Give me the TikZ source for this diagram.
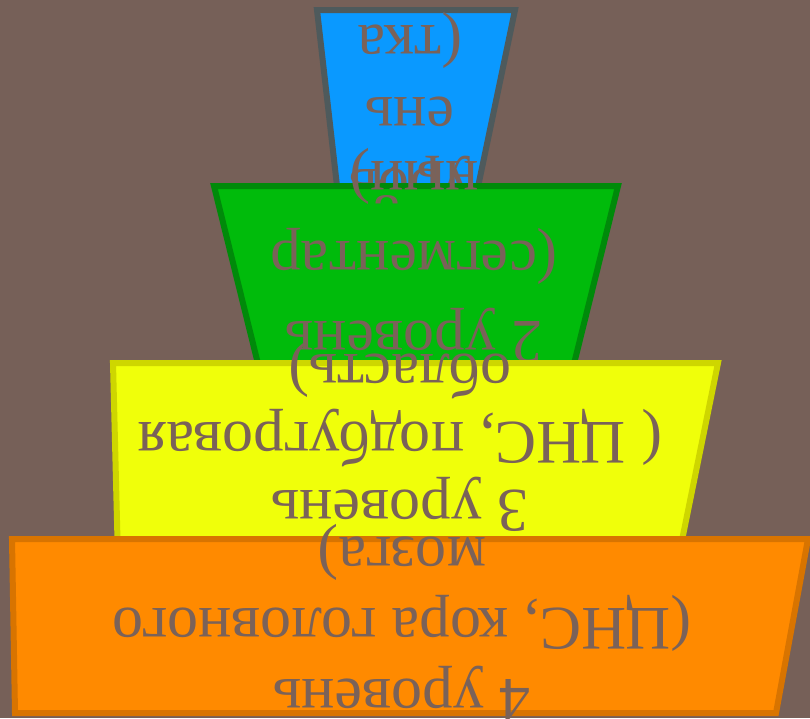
\documentclass[tikz,border=0pt]{standalone}
\usepackage{fontspec}
\setmainfont{Liberation Serif}
\definecolor{bgc}{HTML}{766058}
\definecolor{txc}{HTML}{7A6259}
\definecolor{bluef}{HTML}{0A99FF}
\definecolor{bluel}{HTML}{4E5A5C}
\definecolor{greenf}{HTML}{00BB0B}
\definecolor{greenl}{HTML}{008A0A}
\definecolor{yellowf}{HTML}{F0FF0A}
\definecolor{yellowl}{HTML}{CED600}
\definecolor{orangef}{HTML}{FF8A00}
\definecolor{orangel}{HTML}{D87400}
\tikzset{
  level/.style={line width=6pt, line join=miter},
  lbl/.style={rotate=180, align=center, text=txc, inner sep=0pt},
}
\begin{document}
\begin{tikzpicture}[x=1pt,y=-1pt]
\fill[bgc] (0,0) rectangle (810,718);
\useasboundingbox (0,0) rectangle (810,718);
% blue
\draw[level, fill=bluef, draw=bluel] (317,10) -- (515,10) -- (469,230) -- (342,230) -- cycle;
\node[lbl, font=\fontsize{62}{72}\selectfont] (t1) at (410,106) {уров\\ень\\(тка};
% green
\draw[level, fill=greenf, draw=greenl] (214,186) -- (618,186) -- (570,380) -- (262,380) -- cycle;
\node[lbl, font=\fontsize{62}{80}\selectfont] (t2) at (414,255) {2 уровень\\(сегментар\\ный)};
% yellow
\draw[level, fill=yellowf, draw=yellowl] (113,363) -- (718,363) -- (678,560) -- (118,560) -- cycle;
\node[lbl, font=\fontsize{62}{68}\selectfont] (t3) at (400,436) {3 уровень\\( ЦНС, подбугровая\\область)};
% orange
\draw[level, fill=orangef, draw=orangel] (12,539) -- (808,539) -- (776,713) -- (15,713) -- cycle;
\node[lbl, font=\fontsize{62}{71}\selectfont] (t4) at (402,622) {4 уровень\\(ЦНС, кора головного\\мозга)};
\end{tikzpicture}
\end{document}
